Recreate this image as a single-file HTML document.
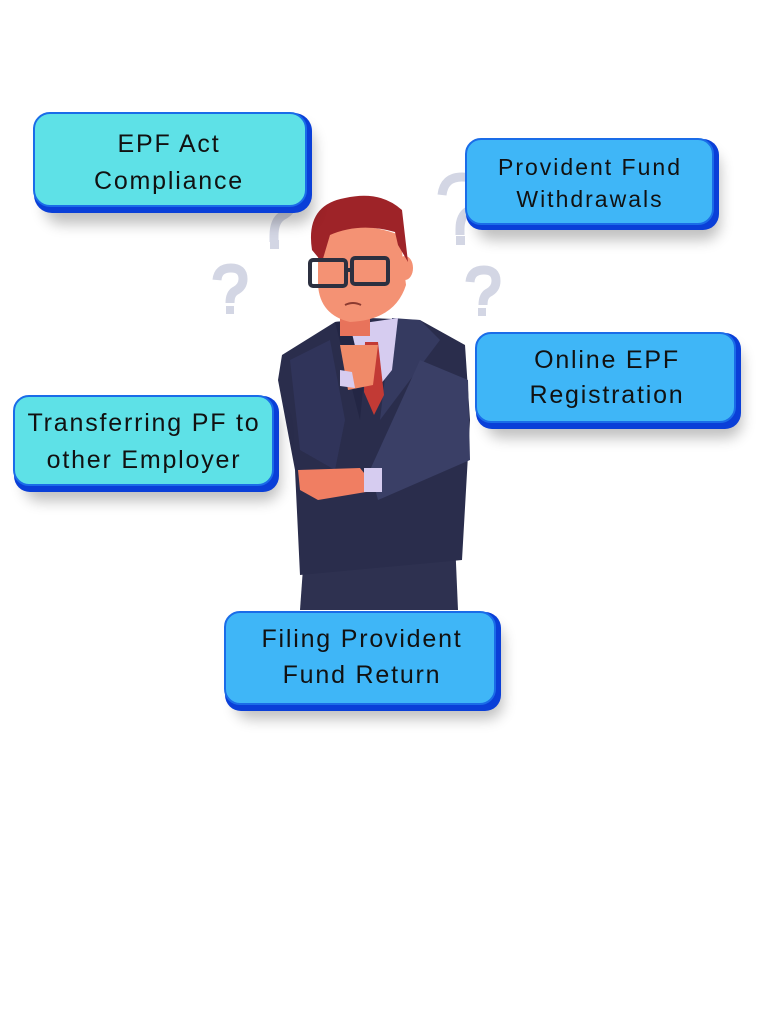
<!DOCTYPE html>
<html><head><style>
html,body{margin:0;padding:0;background:#fff;}
svg{display:block}
text{font-family:"Liberation Sans",sans-serif;fill:#111;text-anchor:middle}
.b{font-size:25px;letter-spacing:1.8px}
.s{font-size:23px;letter-spacing:2px}
</style></head><body>
<svg width="768" height="1024" viewBox="0 0 768 1024" xmlns="http://www.w3.org/2000/svg">
<defs>
<filter id="sh" x="-20%" y="-20%" width="150%" height="160%"><feGaussianBlur stdDeviation="7"/></filter>
</defs>
<g fill="none" stroke="#d3d6e4" stroke-width="9" stroke-linecap="butt">
<path d="M256 200 q2-18 20-18 q18 0 18 16 q0 12-12 18 q-8 5-8 20 v6"/>
<path d="M217 280 q1-12 14-12 q12 0 12 11 q0 8-8 12 q-5 3-5 12"/>
<path d="M442 195 q2-18 20-18 q18 0 18 16 q0 12-12 18 q-8 5-8 18 v6"/>
<path d="M470 282 q1-12 14-12 q12 0 12 11 q0 8-8 12 q-5 3-5 12"/>
</g>
<g fill="#d3d6e4"><rect x="270" y="240" width="9" height="9"/><rect x="226" y="306" width="8" height="8"/><rect x="456" y="236" width="9" height="9"/><rect x="478" y="308" width="8" height="8"/></g>

<g>
<path d="M300 610 L305 540 L455 540 L458 610 Z" fill="#2e3150"/>
<path d="M282 355 L335 322 L370 318 L420 320 L465 345 L470 420 L462 560 L300 575 L295 470 L278 380 Z" fill="#2a2d4c"/>
<path d="M335 322 L370 318 L360 420 Z" fill="#232644"/>
<path d="M392 318 L420 320 L440 340 L380 420 Z" fill="#353a60"/>
<path d="M350 325 L398 318 L392 370 L368 400 Z" fill="#d6ccf0"/>
<path d="M365 342 L378 342 L384 395 L374 415 L364 392 Z" fill="#c23a35"/>
<path d="M290 360 L330 340 L345 420 L335 470 L300 450 Z" fill="#30345a"/>
<path d="M420 360 L468 380 L470 460 L378 500 L370 470 Z" fill="#3a3f66"/>
<path d="M340 345 L378 345 L373 385 L348 390 Z" fill="#f08a68"/>
<path d="M340 370 L352 372 L355 388 L340 386 Z" fill="#d7ccef"/>
<path d="M298 470 L360 468 L378 490 L318 500 L300 490 Z" fill="#f07e62"/>
<rect x="364" y="468" width="18" height="24" fill="#d6ccf0"/>
<rect x="340" y="310" width="30" height="26" fill="#e8735b"/>
<path d="M318 230 Q360 220 400 235 L406 285 Q395 320 350 322 Q320 315 318 285 Z" fill="#f49274"/>
<ellipse cx="405" cy="268" rx="8" ry="12" fill="#f49274"/>
<path d="M312 250 Q305 205 345 198 Q380 190 402 210 L408 262 L398 245 L395 232 Q360 222 330 235 L322 262 Z" fill="#9e2328"/>
<g fill="none" stroke="#2c3040" stroke-width="4"><rect x="310" y="260" width="36" height="26" rx="3"/><rect x="352" y="258" width="36" height="26" rx="3"/><path d="M346 270 L352 270"/></g>
<path d="M345 305 q8-4 16 0" stroke="#8b3a30" stroke-width="2" fill="none"/>
</g>

<g>
<rect x="44" y="126" width="270" height="98" rx="18" fill="#000" opacity="0.25" filter="url(#sh)"/>
<rect x="34" y="113" width="278" height="100" rx="18" fill="#0a3fd8"/>
<rect x="34" y="113" width="272" height="93" rx="16" fill="#5ee1e7" stroke="#1a6ce8" stroke-width="2"/>
<text class="b" x="169" y="152">EPF Act</text>
<text class="b" x="169" y="189">Compliance</text>

<rect x="476" y="152" width="244" height="88" rx="16" fill="#000" opacity="0.25" filter="url(#sh)"/>
<rect x="466" y="139" width="253" height="91" rx="16" fill="#0a3fd8"/>
<rect x="466" y="139" width="247" height="85" rx="15" fill="#3fb6f7" stroke="#1a6ce8" stroke-width="2"/>
<text class="s" x="590" y="175">Provident Fund</text>
<text class="s" x="590" y="207">Withdrawals</text>

<rect x="486" y="346" width="256" height="92" rx="16" fill="#000" opacity="0.25" filter="url(#sh)"/>
<rect x="476" y="333" width="265" height="96" rx="16" fill="#0a3fd8"/>
<rect x="476" y="333" width="259" height="89" rx="15" fill="#3fb6f7" stroke="#1a6ce8" stroke-width="2"/>
<text class="b" x="607" y="368">Online EPF</text>
<text class="b" x="607" y="403">Registration</text>

<rect x="24" y="409" width="256" height="92" rx="16" fill="#000" opacity="0.25" filter="url(#sh)"/>
<rect x="14" y="396" width="265" height="96" rx="16" fill="#0a3fd8"/>
<rect x="14" y="396" width="259" height="89" rx="15" fill="#5ee1e7" stroke="#1a6ce8" stroke-width="2"/>
<text class="b" x="144" y="431">Transferring PF to</text>
<text class="b" x="144" y="468">other Employer</text>

<rect x="235" y="625" width="268" height="94" rx="16" fill="#000" opacity="0.25" filter="url(#sh)"/>
<rect x="225" y="612" width="276" height="99" rx="16" fill="#0a3fd8"/>
<rect x="225" y="612" width="270" height="92" rx="15" fill="#3fb6f7" stroke="#1a6ce8" stroke-width="2"/>
<text class="b" x="362" y="647">Filing Provident</text>
<text class="b" x="362" y="683">Fund Return</text>
</g>
</svg>
</body></html>
